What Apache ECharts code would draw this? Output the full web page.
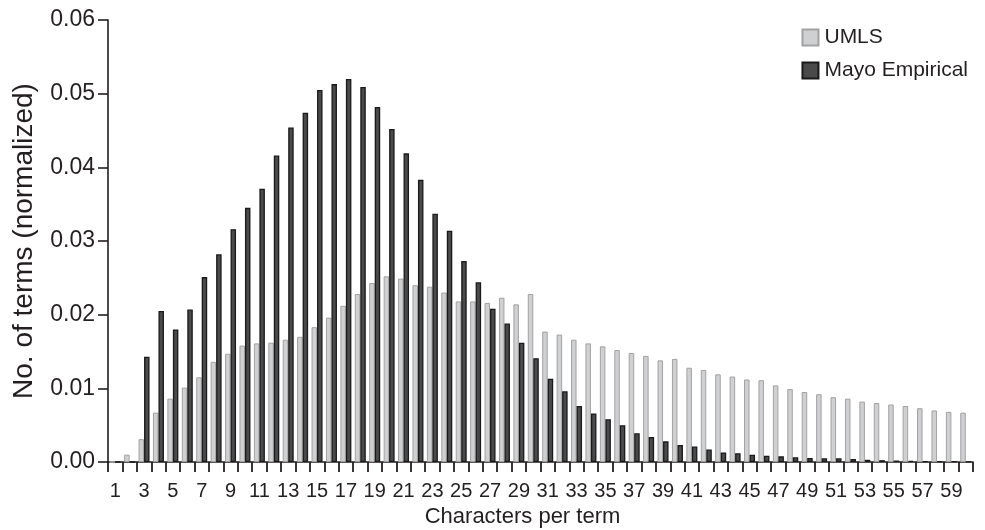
<!DOCTYPE html>
<html>
<head>
<meta charset="utf-8">
<script src="https://cdn.jsdelivr.net/npm/echarts@6/dist/echarts.min.js"></script>
<style>html,body{margin:0;padding:0;background:#fff}#c{width:985px;height:530px}</style>
</head>
<body>
<div id="c"></div>
<script>
const categories = Array.from({length: 60}, (_, i) => String(i + 1));
const umls = [
  0, 0.0010, 0.0031, 0.0067, 0.0086, 0.0101, 0.0115, 0.0136, 0.0147, 0.0158,
  0.0161, 0.0162, 0.0166, 0.0170, 0.0183, 0.0196, 0.0212, 0.0228, 0.0243, 0.0252,
  0.0249, 0.0240, 0.0238, 0.0230, 0.0218, 0.0218, 0.0216, 0.0223, 0.0214, 0.0228,
  0.0177, 0.0173, 0.0166, 0.0161, 0.0157, 0.0152, 0.0148, 0.0144, 0.0138, 0.0140,
  0.0128, 0.0125, 0.0119, 0.0116, 0.0112, 0.0111, 0.0104, 0.0099, 0.0095, 0.0092,
  0.0088, 0.0086, 0.0082, 0.0080, 0.0078, 0.0076, 0.0073, 0.0070, 0.0068, 0.0067
];
const mayo = [
  0, 0, 0.0143, 0.0205, 0.0180, 0.0207, 0.0251, 0.0282, 0.0316, 0.0345,
  0.0371, 0.0416, 0.0454, 0.0474, 0.0505, 0.0513, 0.0520, 0.0509, 0.0482, 0.0452,
  0.0419, 0.0383, 0.0337, 0.0314, 0.0273, 0.0244, 0.0208, 0.0188, 0.0162, 0.0141,
  0.0113, 0.0096, 0.0076, 0.0066, 0.0058, 0.0050, 0.0039, 0.0034, 0.0028, 0.0023,
  0.0021, 0.0017, 0.0013, 0.0012, 0.0010, 0.00086, 0.00077, 0.00064, 0.00054, 0.0005,
  0.0005, 0.0004, 0.0003, 0.00025, 0.0002, 0.00015, 0.00012, 0.0001, 0.00008, 0.00005
];
const seriesNames = ['UMLS', 'Mayo Empirical'];
const yTicks = [0, 0.01, 0.02, 0.03, 0.04, 0.05, 0.06];

const FONT = '"Liberation Sans", Arial, Helvetica, sans-serif';
const TXT = '#231f20';
const chart = echarts.init(document.getElementById('c'), null, {renderer: 'canvas'});
chart.setOption({
  animation: false,
  backgroundColor: '#ffffff',
  textStyle: {fontFamily: FONT, color: TXT},
  grid: {left: 108, right: 12, top: 20, bottom: 68, containLabel: false, outerBoundsMode: 'none'},
  legend: {
    orient: 'vertical', right: 12, top: 22,
    itemWidth: 16, itemHeight: 16, itemGap: 12,
    icon: 'rect',
    textStyle: {fontFamily: FONT, fontSize: 21, color: TXT, padding: [0, 0, 0, 1]},
    data: seriesNames
  },
  xAxis: {
    type: 'category',
    data: categories,
    boundaryGap: true,
    name: 'Characters per term',
    nameLocation: 'middle',
    nameGap: 44,
    nameTextStyle: {fontFamily: FONT, fontSize: 22, color: TXT, padding: [0, 36, 0, 0]},
    axisLine: {lineStyle: {color: TXT, width: 1.6}},
    axisTick: {show: true, interval: 0, length: 10, lineStyle: {color: TXT, width: 1.8}},
    axisLabel: {interval: 1, margin: 19, fontSize: 20, color: TXT, fontFamily: FONT},
    splitLine: {show: false}
  },
  yAxis: {
    type: 'value',
    min: yTicks[0], max: yTicks[yTicks.length - 1], interval: 0.01,
    name: 'No. of terms (normalized)',
    nameLocation: 'middle',
    nameGap: 70,
    nameTextStyle: {fontFamily: FONT, fontSize: 28, color: TXT},
    axisLine: {show: true, lineStyle: {color: TXT, width: 1.6}},
    axisTick: {show: true, length: 10, lineStyle: {color: TXT, width: 1.6}},
    axisLabel: {margin: 13, fontSize: 23, color: TXT, fontFamily: FONT, formatter: v => v.toFixed(2)},
    splitLine: {show: false}
  },
  series: [
    {
      name: seriesNames[0], type: 'bar', data: umls,
      barWidth: 5.5, barGap: '0%',
      itemStyle: {color: '#cfd0d2', borderColor: '#a2a2a4', borderWidth: 1}
    },
    {
      name: seriesNames[1], type: 'bar', data: mayo,
      barWidth: 5.5, barGap: '0%',
      itemStyle: {color: '#4a4a4a', borderColor: '#1a1a1a', borderWidth: 1.3}
    }
  ]
});
</script>
</body>
</html>
